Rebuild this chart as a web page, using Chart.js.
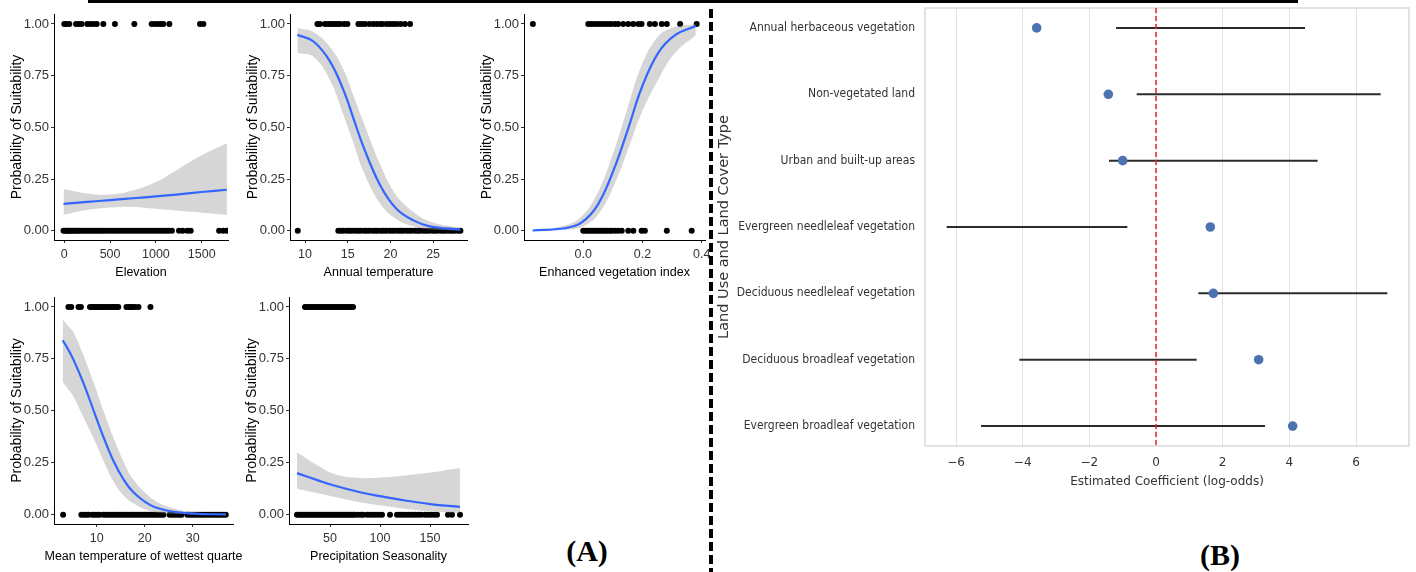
<!DOCTYPE html>
<html>
<head>
<meta charset="utf-8">
<script src="https://cdn.jsdelivr.net/npm/chart.js@4.4.1/dist/chart.umd.min.js"></script>
<style>
  html, body { margin: 0; padding: 0; background: #fff; }
  #page { position: relative; width: 1416px; height: 572px; overflow: hidden; background: #fff; }
  #page canvas { position: absolute; }
  .rule { position: absolute; left: 88px; top: 0; width: 1210px; height: 3px; background: #000; }
  .divider { position: absolute; left: 709px; top: 9px; width: 4px; height: 563px;
             background: repeating-linear-gradient(to bottom, #000 0 9.5px, transparent 9.5px 13px); }
  .tag { position: absolute; width: 100px; text-align: center; line-height: 30px;
         font: bold 30px "Liberation Serif", "Times New Roman", serif; color: #000; }
</style>
</head>
<body>
<div id="page">
  <div class="rule"></div>
  <div class="divider"></div>
  <canvas id="pElev"></canvas>
  <canvas id="pTemp"></canvas>
  <canvas id="pEvi"></canvas>
  <canvas id="pWet"></canvas>
  <canvas id="pPrec"></canvas>
  <canvas id="pCoef"></canvas>
  <div class="tag" style="left:537px; top:534px;">(A)</div>
  <div class="tag" style="left:1170px; top:538px;">(B)</div>
</div>
<script>
// ---------- (A) presence (1) / absence (0) records and fitted logistic curves ----------
const probTicks = [0, 0.25, 0.5, 0.75, 1];
const probTickLabels = ['0.00', '0.25', '0.50', '0.75', '1.00'];

// Elevation
const elevPresent = [0, 26, 55, 128, 157, 189, 251, 281, 317, 353, 426, 553, 765, 954, 990, 1027, 1056, 1081, 1147, 1481, 1518];
const elevAbsent = [-8, 10, 25, 40, 55, 70, 90, 110, 130, 150, 170, 195, 220, 245, 270, 295, 320, 345, 370, 395, 420, 450, 480, 510, 540, 570, 600, 630, 660, 690, 720, 750, 780, 810, 840, 870, 900, 930, 960, 990, 1020, 1050, 1080, 1110, 1140, 1175, 1252, 1292, 1343, 1380, 1690, 1735, 1775];
const elevCurveX = [-8, 250, 500, 750, 1000, 1250, 1500, 1775];
const elevFit = [0.130, 0.139, 0.148, 0.157, 0.166, 0.176, 0.187, 0.198];
const elevLow = [0.077, 0.100, 0.112, 0.115, 0.106, 0.096, 0.087, 0.077];
const elevHigh = [0.202, 0.180, 0.175, 0.194, 0.235, 0.300, 0.365, 0.423];
const elevTicks = [0, 500, 1000, 1500];
const elevTickLabels = ['0', '500', '1000', '1500'];

// Annual temperature
const tempPresent = [11.45, 11.76, 12.34, 12.65, 12.93, 13.24, 13.51, 13.78, 14.1, 14.57, 14.96, 16.25, 16.64, 17.03, 17.54, 18.0, 18.4, 18.8, 19.1, 19.57, 19.96, 20.35, 20.74, 21.2, 21.7, 22.3];
const tempAbsent = [9.15, 13.9, 14.2, 14.5, 14.9, 15.2, 15.5, 15.9, 16.2, 16.5, 16.9, 17.2, 17.5, 17.9, 18.2, 18.5, 18.9, 19.2, 19.5, 19.9, 20.2, 20.5, 20.9, 21.2, 21.5, 21.9, 22.2, 22.5, 22.9, 23.2, 23.5, 23.9, 24.2, 24.5, 24.9, 25.2, 25.5, 25.9, 26.2, 26.5, 26.9, 27.2, 27.5, 27.9, 28.2];
const tempCurveX = [9.1, 11.0, 12.9, 14.5, 15.7, 16.8, 18.8, 20.7, 22.7, 24.6, 28.2];
const tempFit = [0.947, 0.915, 0.82, 0.68, 0.54, 0.41, 0.22, 0.106, 0.05, 0.021, 0.005];
const tempLow = [0.86, 0.84, 0.73, 0.56, 0.42, 0.29, 0.13, 0.055, 0.02, 0.006, 0.0005];
const tempHigh = [0.98, 0.96, 0.89, 0.78, 0.65, 0.53, 0.32, 0.17, 0.09, 0.045, 0.012];
const tempTicks = [10, 15, 20, 25];
const tempTickLabels = ['10', '15', '20', '25'];

// Enhanced vegetation index
const eviPresent = [-0.17, 0.017, 0.028, 0.039, 0.05, 0.061, 0.072, 0.083, 0.094, 0.107, 0.118, 0.135, 0.152, 0.169, 0.186, 0.197, 0.225, 0.242, 0.265, 0.282, 0.327, 0.383];
const eviAbsent = [0.0, 0.008, 0.016, 0.024, 0.032, 0.04, 0.048, 0.056, 0.064, 0.072, 0.08, 0.088, 0.096, 0.107, 0.118, 0.13, 0.152, 0.169, 0.197, 0.208, 0.282, 0.366];
const eviCurveX = [-0.171, -0.062, -0.005, 0.051, 0.107, 0.153, 0.197, 0.253, 0.31, 0.38];
const eviFit = [0.001, 0.012, 0.04, 0.13, 0.31, 0.5, 0.69, 0.86, 0.946, 0.99];
const eviLow = [0.0, 0.004, 0.018, 0.08, 0.23, 0.40, 0.57, 0.73, 0.86, 0.945];
const eviHigh = [0.003, 0.025, 0.07, 0.19, 0.40, 0.61, 0.80, 0.94, 0.985, 0.998];
const eviTicks = [0, 0.2, 0.4];
const eviTickLabels = ['0.0', '0.2', '0.4'];

// Mean temperature of wettest quarter
const wetPresent = [4.1, 4.7, 6.2, 6.7, 8.6, 9.0, 9.4, 9.8, 10.1, 10.5, 10.9, 11.3, 11.7, 12.1, 12.5, 12.9, 13.3, 13.7, 14.1, 14.5, 16.2, 16.7, 17.1, 17.5, 18.0, 18.7, 21.2];
const wetAbsent = [3.0, 6.8, 7.3, 7.8, 8.3, 9.1, 9.6, 10.1, 10.6, 11.4, 11.9, 12.4, 12.9, 13.4, 13.9, 14.4, 14.9, 15.4, 15.9, 16.4, 16.9, 17.4, 17.9, 18.4, 18.9, 19.4, 19.9, 20.4, 20.9, 21.4, 21.9, 22.4, 22.9, 23.4, 23.9, 25.2, 25.7, 26.2, 26.7, 27.2, 27.7, 28.9, 29.4, 29.9, 30.4, 30.9, 31.4, 31.9, 32.4, 32.9, 33.4, 33.9, 34.4, 34.9, 35.4, 35.9, 36.4, 36.9];
const wetCurveX = [2.9, 4.0, 5.1, 7.2, 9.3, 11.4, 13.5, 15.5, 17.6, 21.1, 24.6, 30.1, 36.9];
const wetFit = [0.84, 0.798, 0.749, 0.636, 0.505, 0.374, 0.258, 0.173, 0.109, 0.047, 0.02, 0.005, 0.001];
const wetLow = [0.64, 0.605, 0.57, 0.47, 0.37, 0.26, 0.16, 0.095, 0.055, 0.018, 0.005, 0.0008, 0.0];
const wetHigh = [0.94, 0.91, 0.88, 0.77, 0.64, 0.50, 0.37, 0.26, 0.17, 0.085, 0.04, 0.012, 0.003];
const wetTicks = [10, 20, 30];
const wetTickLabels = ['10', '20', '30'];

// Precipitation seasonality
const precPresent = [25, 27, 29, 31, 33, 35, 37, 39, 41, 43, 45, 47, 49, 51, 53, 55, 57, 59, 61, 63, 65, 67, 69, 71, 73];
const precAbsent = [17, 19, 21, 23, 25, 27, 29, 31, 33, 35, 37, 39, 41, 43, 45, 47, 49, 51, 53, 55, 57, 59, 61, 63, 65, 67, 69, 71, 73, 75, 78, 81, 83, 87, 90, 93, 96, 99, 102, 110, 117, 120, 123, 126, 129, 132, 135, 138, 141, 145, 148, 151, 154, 157, 168, 172, 180];
const precCurveX = [17, 38, 55, 80, 100, 125, 150, 180];
const precFit = [0.200, 0.165, 0.139, 0.108, 0.089, 0.068, 0.051, 0.037];
const precLow = [0.125, 0.103, 0.085, 0.060, 0.045, 0.028, 0.016, 0.007];
const precHigh = [0.300, 0.235, 0.195, 0.177, 0.179, 0.189, 0.203, 0.225];
const precTicks = [50, 100, 150];
const precTickLabels = ['50', '100', '150'];

// ---------- (B) land use / land cover coefficients ----------
const landCoverTypes = [
  'Annual herbaceous vegetation',
  'Non-vegetated land',
  'Urban and built-up areas',
  'Evergreen needleleaf vegetation',
  'Deciduous needleleaf vegetation',
  'Deciduous broadleaf vegetation',
  'Evergreen broadleaf vegetation'
];
const coefEstimate = [-3.58, -1.43, -1.00, 1.63, 1.72, 3.08, 4.10];
const coefLow = [-1.20, -0.58, -1.41, -6.28, 1.27, -4.10, -5.25];
const coefHigh = [4.47, 6.74, 4.85, -0.86, 6.94, 1.22, 3.27];
const coefTicks = [-6, -4, -2, 0, 2, 4, 6];
const coefTickLabels = ['\u22126', '\u22124', '\u22122', '0', '2', '4', '6'];
const referenceCoef = 0;

// ---------- shared drawing helpers ----------
const SANS = '"Liberation Sans", Arial, sans-serif';
const DEJAVU = '"DejaVu Sans", sans-serif';
const DEJAVU_NARROW = '"DejaVu Sans Condensed", "DejaVu Sans", sans-serif';

function fixedTicks(values) {
  return scale => { scale.ticks = values.map(v => ({ value: v })); };
}

// x-axis caption drawn at its natural width (may be wider than the panel)
const xCaption = {
  id: 'xCaption',
  afterDraw(chart, args, opts) {
    if (!opts || !opts.text) return;
    const a = chart.chartArea, ctx = chart.ctx;
    ctx.save();
    ctx.font = `12.5px ${SANS}`;
    ctx.fillStyle = '#000';
    ctx.textAlign = 'center';
    ctx.textBaseline = 'middle';
    ctx.fillText(opts.text, (a.left + a.right) / 2, a.bottom + opts.offset);
    ctx.restore();
  }
};

function logitPanel(id, cfg) {
  const YW = 47, PT = 10, PR = 12, XH = 45;
  const [l, t, r, b] = cfg.box;
  const canvas = document.getElementById(id);
  canvas.width = (r - l) + YW + PR;
  canvas.height = (b - t) + PT + XH;
  canvas.style.left = (l - YW) + 'px';
  canvas.style.top = (t - PT) + 'px';

  const along = ys => cfg.curveX.map((x, i) => ({ x, y: ys[i] }));
  const obs = cfg.present.map(x => ({ x, y: 1 })).concat(cfg.absent.map(x => ({ x, y: 0 })));
  const smooth = { tension: 0.4, cubicInterpolationMode: 'default', pointRadius: 0 };

  new Chart(canvas, {
    type: 'scatter',
    data: {
      datasets: [
        { type: 'line', data: along(cfg.fit), borderColor: '#3366FF', borderWidth: 2.2,
          fill: false, order: 0, ...smooth },
        { type: 'line', data: along(cfg.low), borderColor: 'rgba(0,0,0,0)', borderWidth: 1,
          fill: false, order: 1, ...smooth },
        { type: 'line', data: along(cfg.high), borderColor: 'rgba(0,0,0,0)', borderWidth: 1,
          fill: '-1', backgroundColor: 'rgba(153,153,153,0.4)', order: 1, ...smooth },
        { data: obs, pointRadius: 3, pointBackgroundColor: '#000', pointBorderWidth: 0, order: 2 }
      ]
    },
    plugins: [xCaption],
    options: {
      responsive: false, animation: false, events: [], devicePixelRatio: 1,
      layout: { padding: { top: PT, right: PR, left: 0, bottom: 0 }, autoPadding: false },
      plugins: { legend: { display: false }, tooltip: { enabled: false },
                 xCaption: { text: cfg.xTitle, offset: 32.5 } },
      scales: {
        x: {
          type: 'linear', min: cfg.xMin, max: cfg.xMax,
          afterBuildTicks: fixedTicks(cfg.xTicks),
          afterFit: s => { s.height = XH; s.paddingLeft = 0; s.paddingRight = 0; },
          ticks: { callback: (v, i) => cfg.xTickLabels[i], font: { family: SANS, size: 12.5 },
                   color: '#333', padding: 4, maxRotation: 0, autoSkip: false },
          grid: { drawOnChartArea: false, drawTicks: true, tickLength: 3, color: '#333' },
          border: { display: true, color: '#000', width: 1 }
        },
        y: {
          type: 'linear', min: -0.045, max: 1.048,
          afterBuildTicks: fixedTicks(probTicks),
          afterFit: s => { s.width = YW; s.paddingTop = 0; s.paddingBottom = 0; },
          ticks: { callback: (v, i) => probTickLabels[i], font: { family: SANS, size: 13 },
                   color: '#333', padding: 2, autoSkip: false },
          grid: { drawOnChartArea: false, drawTicks: true, tickLength: 3, color: '#333' },
          border: { display: true, color: '#000', width: 1 },
          title: { display: true, text: 'Probability of Suitability', color: '#000',
                   font: { family: SANS, size: 14 }, padding: { top: 2, bottom: 0 } }
        }
      }
    }
  });
}

logitPanel('pElev', { box: [54, 14, 228, 240], xMin: -112, xMax: 1787,
  present: elevPresent, absent: elevAbsent, curveX: elevCurveX, fit: elevFit, low: elevLow, high: elevHigh,
  xTicks: elevTicks, xTickLabels: elevTickLabels, xTitle: 'Elevation' });

logitPanel('pTemp', { box: [290, 14, 467, 240], xMin: 8.24, xMax: 28.97,
  present: tempPresent, absent: tempAbsent, curveX: tempCurveX, fit: tempFit, low: tempLow, high: tempHigh,
  xTicks: tempTicks, xTickLabels: tempTickLabels, xTitle: 'Annual temperature' });

logitPanel('pEvi', { box: [524, 14, 705, 240], xMin: -0.2, xMax: 0.411,
  present: eviPresent, absent: eviAbsent, curveX: eviCurveX, fit: eviFit, low: eviLow, high: eviHigh,
  xTicks: eviTicks, xTickLabels: eviTickLabels, xTitle: 'Enhanced vegetation index' });

logitPanel('pWet', { box: [54, 297, 233, 524], xMin: 1.1, xMax: 38.4,
  present: wetPresent, absent: wetAbsent, curveX: wetCurveX, fit: wetFit, low: wetLow, high: wetHigh,
  xTicks: wetTicks, xTickLabels: wetTickLabels, xTitle: 'Mean temperature of wettest quarte' });

logitPanel('pPrec', { box: [289, 297, 468, 524], xMin: 9, xMax: 188,
  present: precPresent, absent: precAbsent, curveX: precCurveX, fit: precFit, low: precLow, high: precHigh,
  xTicks: precTicks, xTickLabels: precTickLabels, xTitle: 'Precipitation Seasonality' });

// ---------- (B) coefficient plot ----------
(function coefficientPlot() {
  const canvas = document.getElementById('pCoef');
  const left = 714, YW = 211, XH = 47;
  canvas.width = 1416 - left;
  canvas.height = 446 + XH;
  canvas.style.left = left + 'px';
  canvas.style.top = '0px';
  const rowMin = -0.3, rowMax = 6.3;

  // light frame around the plotting area
  const framePlugin = {
    id: 'frame',
    beforeDatasetsDraw(chart) {
      const a = chart.chartArea, ctx = chart.ctx;
      ctx.save();
      ctx.strokeStyle = '#d4d4d4';
      ctx.lineWidth = 1.3;
      ctx.strokeRect(a.left, a.top, a.right - a.left, a.bottom - a.top);
      ctx.restore();
    }
  };

  const ciSets = landCoverTypes.map((name, i) => ({
    type: 'line',
    data: [{ x: coefLow[i], y: i }, { x: coefHigh[i], y: i }],
    borderColor: '#2b2b2b', borderWidth: 2, pointRadius: 0, fill: false, order: 2
  }));

  new Chart(canvas, {
    type: 'scatter',
    data: {
      datasets: [
        { data: coefEstimate.map((x, i) => ({ x, y: i })), pointRadius: 4.8,
          pointBackgroundColor: '#4c72b0', pointBorderWidth: 0, order: 0 },
        { type: 'line', data: [{ x: referenceCoef, y: rowMin }, { x: referenceCoef, y: rowMax }],
          borderColor: '#e8252b', borderWidth: 1.5, borderDash: [5, 3], pointRadius: 0,
          fill: false, order: 1 },
        ...ciSets
      ]
    },
    plugins: [framePlugin],
    options: {
      responsive: false, animation: false, events: [], devicePixelRatio: 1,
      layout: { padding: { top: 8, right: 7, left: 0, bottom: 0 }, autoPadding: false },
      plugins: { legend: { display: false }, tooltip: { enabled: false } },
      scales: {
        x: {
          type: 'linear', min: -6.93, max: 7.59,
          afterBuildTicks: fixedTicks(coefTicks),
          afterFit: s => { s.height = XH; s.paddingLeft = 0; s.paddingRight = 0; },
          ticks: { callback: (v, i) => coefTickLabels[i], font: { family: DEJAVU, size: 12 },
                   color: '#333', padding: 10, maxRotation: 0, autoSkip: false },
          grid: { drawOnChartArea: true, drawTicks: false, color: '#e2e2e2', lineWidth: 1 },
          border: { display: false },
          title: { display: true, text: 'Estimated Coefficient (log-odds)', color: '#333',
                   font: { family: DEJAVU, size: 12 }, padding: { top: 0, bottom: 4 } }
        },
        y: {
          type: 'linear', min: rowMin, max: rowMax, reverse: true,
          afterBuildTicks: fixedTicks(landCoverTypes.map((n, i) => i)),
          afterFit: s => { s.width = YW; s.paddingTop = 0; s.paddingBottom = 0; },
          ticks: { callback: v => landCoverTypes[v], font: { family: DEJAVU_NARROW, size: 12 },
                   color: '#333', padding: 10, autoSkip: false },
          grid: { display: true, drawOnChartArea: false, drawTicks: false },
          border: { display: false },
          title: { display: true, text: 'Land Use and Land Cover Type', color: '#333',
                   font: { family: DEJAVU, size: 14.5 }, padding: { top: 2, bottom: 0 } }
        }
      }
    }
  });
})();
</script>
</body>
</html>
